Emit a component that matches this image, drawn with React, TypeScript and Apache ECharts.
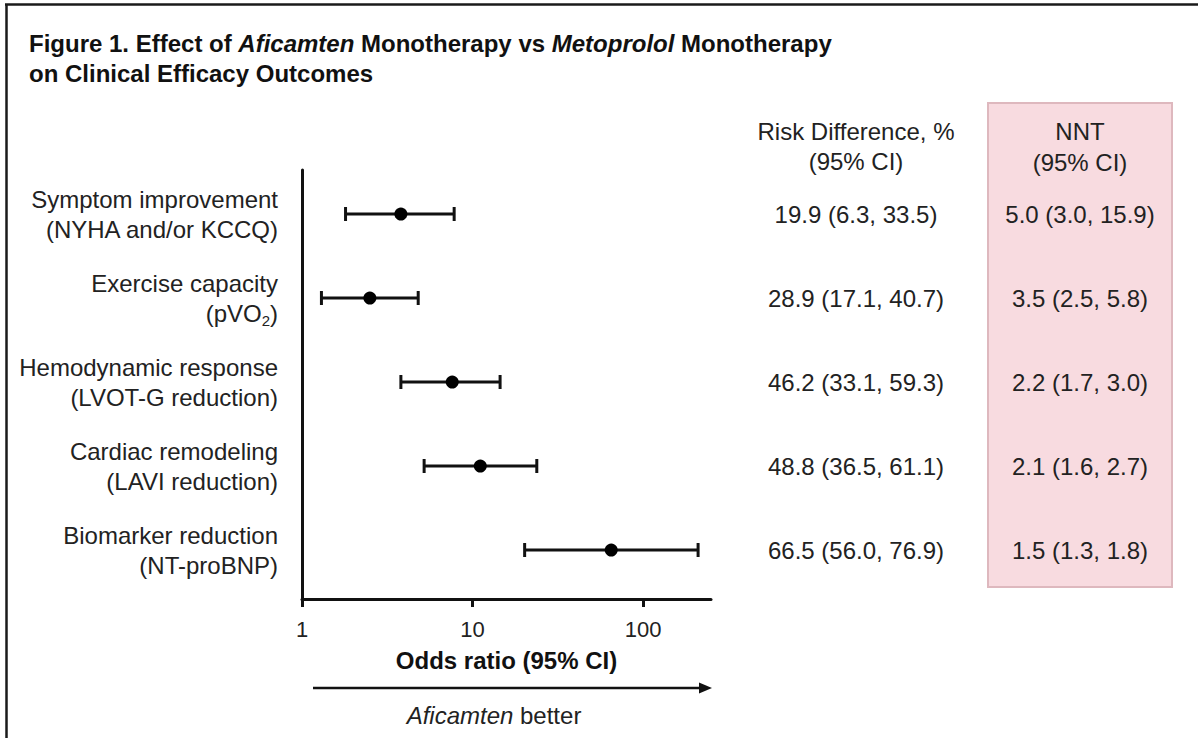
import React, { useEffect, useRef } from "react";
import * as echarts from "echarts";

const FONT = "'Liberation Sans', Arial, Helvetica, sans-serif";

const outcomeLabels = [
  "Symptom improvement\n(NYHA and/or KCCQ)",
  "Exercise capacity\n(pVO{sub|2})",
  "Hemodynamic response\n(LVOT-G reduction)",
  "Cardiac remodeling\n(LAVI reduction)",
  "Biomarker reduction\n(NT-proBNP)",
];
const rowPositions = [1, 2, 3, 4, 5];
const oddsRatio = [3.8, 2.5, 7.6, 11.1, 65];
const ciLower = [1.8, 1.3, 3.8, 5.2, 20.2];
const ciUpper = [7.8, 4.8, 14.5, 23.8, 210];
const riskDifference = [
  "19.9 (6.3, 33.5)",
  "28.9 (17.1, 40.7)",
  "46.2 (33.1, 59.3)",
  "48.8 (36.5, 61.1)",
  "66.5 (56.0, 76.9)",
];
const nntValues = [
  "5.0 (3.0, 15.9)",
  "3.5 (2.5, 5.8)",
  "2.2 (1.7, 3.0)",
  "2.1 (1.6, 2.7)",
  "1.5 (1.3, 1.8)",
];
const xTickValues = [1, 10, 100];

export default function App() {
  const ref = useRef<HTMLDivElement>(null);

  useEffect(() => {
    if (!ref.current) return;
    const chart = echarts.init(ref.current, undefined, { renderer: "svg" });

    const textColor = "#222";
    const axisColor = "#111";
    const yMin = 0.476;
    const yMax = 5.583;

    const labelFor = (arr: string[]) => (v: number) => {
      const i = Math.round(v) - 1;
      return arr[i] ?? "";
    };

    const option: any = {
      animation: false,
      backgroundColor: "#fff",
      grid: { left: 302, right: 487, top: 170, bottom: 139, containLabel: false },
      xAxis: {
        type: "log",
        logBase: 10,
        min: 1,
        max: 250,
        name: "Odds ratio (95% CI)",
        nameLocation: "middle",
        nameGap: 49,
        nameTextStyle: { fontFamily: FONT, fontSize: 24, fontWeight: "bold", color: "#111" },
        axisLine: { show: true, lineStyle: { color: axisColor, width: 3 } },
        axisTick: { show: true, length: 8, lineStyle: { color: axisColor, width: 3 }, customValues: xTickValues },
        axisLabel: {
          fontFamily: FONT,
          fontSize: 22,
          color: textColor,
          margin: 19,
          customValues: xTickValues,
          formatter: (v: number) => String(Math.round(v)),
        },
        splitLine: { show: false },
        minorTick: { show: false },
      },
      yAxis: [
        {
          type: "value",
          inverse: true,
          min: yMin,
          max: yMax,
          position: "left",
          axisLine: { show: true, lineStyle: { color: axisColor, width: 3 } },
          axisTick: { show: false },
          splitLine: { show: false },
          axisLabel: {
            customValues: rowPositions,
            formatter: labelFor(outcomeLabels),
            fontFamily: FONT,
            fontSize: 24,
            lineHeight: 30,
            color: textColor,
            align: "right",
            margin: 24,
            rich: {
              sub: { fontFamily: FONT, fontSize: 15, lineHeight: 17, verticalAlign: "bottom", color: textColor },
            },
          },
        },
        {
          type: "value",
          inverse: true,
          min: yMin,
          max: yMax,
          position: "right",
          axisLine: { show: false },
          axisTick: { show: false },
          splitLine: { show: false },
          axisLabel: {
            customValues: rowPositions,
            formatter: labelFor(riskDifference),
            fontFamily: FONT,
            fontSize: 24,
            color: textColor,
            align: "center",
            margin: 145,
          },
        },
        {
          type: "value",
          inverse: true,
          min: yMin,
          max: yMax,
          position: "right",
          axisLine: { show: false },
          axisTick: { show: false },
          splitLine: { show: false },
          axisLabel: {
            customValues: rowPositions,
            formatter: labelFor(nntValues),
            fontFamily: FONT,
            fontSize: 24,
            color: textColor,
            align: "center",
            margin: 369,
          },
        },
      ],
      graphic: {
        elements: [
          {
            type: "rect",
            z: -10,
            shape: { x: 988, y: 103, width: 184, height: 484 },
            style: { fill: "#f8dbe0", stroke: "#deb8be", lineWidth: 2 },
          },
          {
            type: "line",
            shape: { x1: 5, y1: 4.5, x2: 1198, y2: 4.5 },
            style: { stroke: "#1a1a1a", lineWidth: 2.5 },
          },
          {
            type: "line",
            shape: { x1: 6.5, y1: 4, x2: 6.5, y2: 738 },
            style: { stroke: "#1a1a1a", lineWidth: 2.5 },
          },
          {
            type: "text",
            x: 29,
            y: 28,
            style: {
              text: "Figure 1. Effect of {i|Aficamten} Monotherapy vs {i|Metoprolol} Monotherapy\non Clinical Efficacy Outcomes",
              fontFamily: FONT,
              fontSize: 24,
              fontWeight: "bold",
              lineHeight: 30,
              fill: "#111",
              rich: {
                i: { fontFamily: FONT, fontSize: 24, fontWeight: "bold", fontStyle: "italic", lineHeight: 30, fill: "#111" },
              },
            },
          },
          {
            type: "text",
            x: 856,
            y: 116,
            style: {
              text: "Risk Difference, %\n(95% CI)",
              fontFamily: FONT,
              fontSize: 24,
              lineHeight: 30,
              fill: textColor,
              align: "center",
            },
          },
          {
            type: "text",
            x: 1080,
            y: 116,
            style: {
              text: "NNT\n(95% CI)",
              fontFamily: FONT,
              fontSize: 24,
              lineHeight: 31,
              fill: textColor,
              align: "center",
            },
          },
          {
            type: "line",
            shape: { x1: 313, y1: 688, x2: 702, y2: 688 },
            style: { stroke: "#111", lineWidth: 2.5 },
          },
          {
            type: "polygon",
            shape: { points: [[699, 682.5], [712, 688], [699, 693.5]] },
            style: { fill: "#111" },
          },
          {
            type: "text",
            x: 494,
            y: 715,
            style: {
              text: "{i|Aficamten} better",
              fontFamily: FONT,
              fontSize: 24,
              fill: textColor,
              align: "center",
              verticalAlign: "middle",
              rich: {
                i: { fontFamily: FONT, fontSize: 24, fontStyle: "italic", fill: textColor },
              },
            },
          },
        ],
      },
      series: [
        {
          type: "custom",
          xAxisIndex: 0,
          yAxisIndex: 0,
          encode: { y: 0, x: [1, 2] },
          data: rowPositions.map((r, i) => [r, ciLower[i], ciUpper[i]]),
          renderItem: (params: any, api: any) => {
            const y = api.value(0);
            const lo = api.coord([api.value(1), y]);
            const hi = api.coord([api.value(2), y]);
            const capH = 7;
            const st = { stroke: "#111", lineWidth: 3 };
            return {
              type: "group",
              children: [
                { type: "line", shape: { x1: lo[0], y1: lo[1], x2: hi[0], y2: hi[1] }, style: st },
                { type: "line", shape: { x1: lo[0], y1: lo[1] - capH, x2: lo[0], y2: lo[1] + capH }, style: st },
                { type: "line", shape: { x1: hi[0], y1: hi[1] - capH, x2: hi[0], y2: hi[1] + capH }, style: st },
              ],
            };
          },
          z: 2,
        },
        {
          type: "scatter",
          xAxisIndex: 0,
          yAxisIndex: 0,
          data: rowPositions.map((r, i) => [oddsRatio[i], r]),
          symbol: "circle",
          symbolSize: 13,
          itemStyle: { color: "#000", opacity: 1 },
          z: 3,
        },
      ],
    };

    chart.setOption(option);
    return () => chart.dispose();
  }, []);

  return (
    <div
      ref={ref}
      style={{ position: "fixed", left: 0, top: 0, width: 1198, height: 738 }}
    />
  );
}
